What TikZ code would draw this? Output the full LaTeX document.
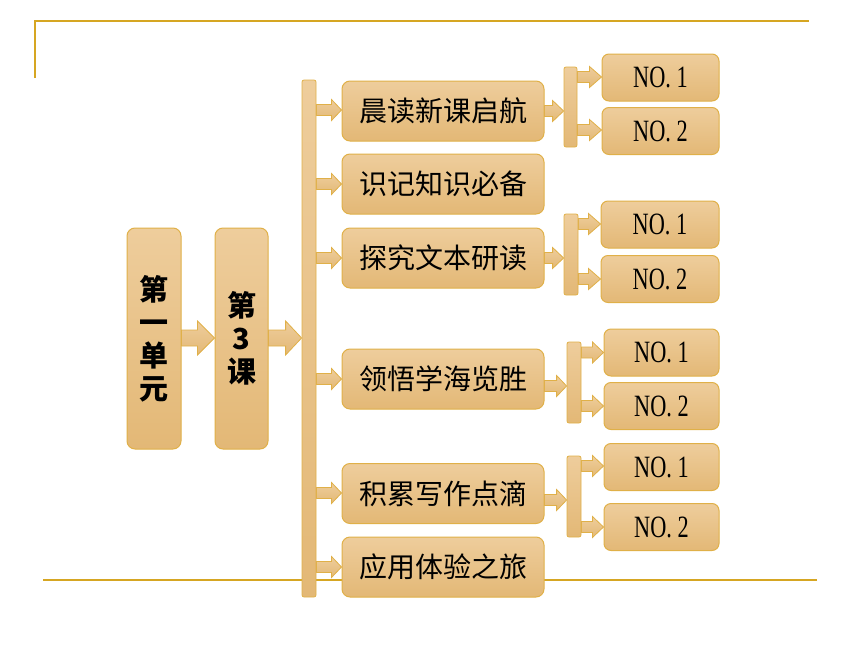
\documentclass[tikz,border=0pt]{standalone}
\usepackage{fontspec}
\setmainfont{Liberation Serif}
\newfontfamily\cjk{Noto Sans CJK SC}
\usetikzlibrary{calc}
\pgfdeclarelayer{bg}
\pgfsetlayers{bg,main}
\definecolor{lightF}{RGB}{238,205,156}
\definecolor{darkF}{RGB}{227,184,118}
\definecolor{edgeC}{RGB}{224,176,72}
\definecolor{lineC}{RGB}{214,166,34}
\tikzset{
  box/.style={draw=edgeC, line width=1pt, top color=lightF, bottom color=darkF, rounded corners=8pt, inner sep=0pt},
  bigbox/.style={box, minimum width=54pt, minimum height=221pt, align=center, font=\cjk\bfseries\fontsize{29}{33}\selectfont},
  mainbox/.style={box, minimum width=202pt, minimum height=60pt, font=\cjk\fontsize{28}{28}\selectfont},
  nobox/.style={box, rounded corners=7pt, minimum width=117pt, minimum height=47pt},
  barbox/.style={draw=edgeC, line width=0.8pt, top color=lightF, bottom color=darkF, rounded corners=2pt, inner sep=0pt, minimum width=14pt},
  fat/.style={draw=edgeC, line width=0.8pt, top color=lightF, bottom color=darkF},
  deco/.style={draw=lineC, line width=1.6pt},
}
\newcommand\nolabel[1]{\scalebox{0.72}[1]{\fontsize{31}{31}\selectfont NO.\hspace{8pt}#1}}
% from node, to node, y (image px), shaft half, head half, head length
\newcommand\fatarr[6]{%
  \path[fat] let \p1=(#1.east), \p2=(#2.west) in
    (\x1,{-#3pt+#4pt}) -- ({\x2-#6pt},{-#3pt+#4pt}) -- ({\x2-#6pt},{-#3pt+#5pt})
    -- (\x2,{-#3pt}) -- ({\x2-#6pt},{-#3pt-#5pt}) -- ({\x2-#6pt},{-#3pt-#4pt})
    -- (\x1,{-#3pt-#4pt}) -- cycle;}
\begin{document}
\begin{tikzpicture}[x=1pt,y=-1pt]
\useasboundingbox (0,0) rectangle (860,645);
% decoration lines
\begin{pgfonlayer}{bg}
\coordinate (t0) at (35,78);
\coordinate (t1) at (35,21);
\coordinate (t2) at (809,21);
\coordinate (b0) at (43,580);
\coordinate (b1) at (817,580);
\draw[deco] (t0) -- (t1) -- (t2);
\draw[deco] (b0) -- (b1);
\end{pgfonlayer}
% big boxes
\node[bigbox] (u) at (154,338.5) {第\\一\\单\\元};
\node[bigbox, minimum width=53pt] (k) at (241.5,338.5) {第\\3\\课};
\node[barbox, minimum height=517pt] (bar) at (309,338.5) {};
% main boxes
\node[mainbox] (m1) at (443,111) {晨读新课启航};
\node[mainbox] (m2) at (443,184) {识记知识必备};
\node[mainbox] (m3) at (443,258) {探究文本研读};
\node[mainbox] (m4) at (443,379) {领悟学海览胜};
\node[mainbox] (m5) at (443,493.5) {积累写作点滴};
\node[mainbox] (m6) at (443,567) {应用体验之旅};
% sub bars
\node[barbox, minimum width=13pt, minimum height=80pt] (s1) at (570.5,107) {};
\node[barbox, minimum height=81pt] (s2) at (571,254.5) {};
\node[barbox, minimum height=81pt] (s3) at (574,382.5) {};
\node[barbox, minimum height=81pt] (s4) at (574,496.5) {};
% NO boxes
\node[nobox] (n11) at (660.5,77.5) {\nolabel{1}};
\node[nobox] (n12) at (660.5,131) {\nolabel{2}};
\node[nobox, minimum width=118pt] (n21) at (660,224.5) {\nolabel{1}};
\node[nobox, minimum width=118pt] (n22) at (660,279) {\nolabel{2}};
\node[nobox, minimum width=115pt] (n31) at (661.5,352.5) {\nolabel{1}};
\node[nobox, minimum width=115pt] (n32) at (661.5,406) {\nolabel{2}};
\node[nobox, minimum width=115pt] (n41) at (661.5,467) {\nolabel{1}};
\node[nobox, minimum width=115pt] (n42) at (661.5,527) {\nolabel{2}};
% arrows
\begin{pgfonlayer}{bg}
\fatarr{u}{k}{338}{8}{17}{17}
\fatarr{k}{bar}{338}{8}{17}{16}
\fatarr{bar}{m1}{110}{5.5}{10.5}{10}
\fatarr{bar}{m2}{184}{5.5}{10.5}{10}
\fatarr{bar}{m3}{258}{5.5}{10.5}{10}
\fatarr{bar}{m4}{379}{5.5}{10.5}{10}
\fatarr{bar}{m5}{493}{5.5}{10.5}{10}
\fatarr{bar}{m6}{567}{5.5}{10.5}{10}
\fatarr{m1}{s1}{111}{5.5}{10.5}{11}
\fatarr{m3}{s2}{258}{5.5}{10.5}{11}
\fatarr{m4}{s3}{386}{5.5}{10.5}{10}
\fatarr{m5}{s4}{500}{5.5}{10.5}{10}
\fatarr{s1}{n11}{77}{5.5}{10.5}{12}
\fatarr{s1}{n12}{130}{5.5}{10.5}{12}
\fatarr{s2}{n21}{224}{5.5}{10.5}{12}
\fatarr{s2}{n22}{279}{5.5}{10.5}{12}
\fatarr{s3}{n31}{352.5}{5.5}{10.5}{11}
\fatarr{s3}{n32}{406}{5.5}{10.5}{11}
\fatarr{s4}{n41}{466}{5.5}{10.5}{11}
\fatarr{s4}{n42}{527}{5.5}{10.5}{11}
\end{pgfonlayer}
\end{tikzpicture}
\end{document}
